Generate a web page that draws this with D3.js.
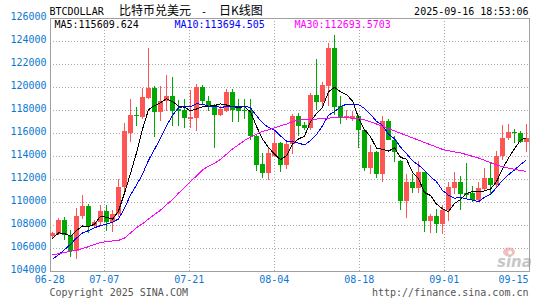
<!DOCTYPE html>
<html>
<head>
<meta charset="utf-8">
<script src="https://cdn.jsdelivr.net/npm/d3@7"></script>
<style>
  body { margin: 0; background: #fff; }
  svg text { font-family: "DejaVu Sans Mono", "Liberation Mono", monospace; font-size: 10px; }
</style>
</head>
<body>
<div id="chart"></div>
<script>
// daily candles, 2025-06-28 .. 2025-09-15
const firstDay = '2025-06-28'
const lastDay = '2025-09-15'

const open = [
  107100, 107250, 108450, 107150, 105800, 108850, 109700, 107950, 108300, 109250,
  108300, 109000, 111300, 116050, 117580, 117400, 119090, 119960, 117800, 118770,
  119260, 118100, 118010, 117250, 117340, 120020, 118830, 118240, 117600, 117950,
  119550, 118270, 118040, 118040, 115770, 113300, 112580, 114030, 115130, 113240,
  115050, 117520, 116730, 116440, 119350, 118680, 120130, 123420, 118390, 117310,
  117230, 117520, 116240, 112950, 114380, 112460, 117020, 115420, 113590, 110100,
  111790, 111270, 112600, 108390, 108830, 108160, 109320, 111270, 111760, 110770,
  110770, 110190, 111150, 112140, 111500, 114030, 115570, 116120, 116040, 115280
]
const high = [
  107450, 108650, 108700, 107600, 109500, 110650, 109900, 108500, 109750, 109800,
  109350, 112030, 116900, 119000, 118280, 119900, 123360, 120100, 120130, 121090,
  120920, 118900, 118940, 119750, 120280, 120220, 119200, 118560, 118400, 119870,
  119870, 118970, 118970, 118970, 115900, 114260, 114790, 116150, 115250, 115300,
  117690, 117750, 117000, 119490, 122400, 120420, 123800, 124560, 119200, 117980,
  117900, 117600, 116300, 115000, 114500, 117520, 117230, 115770, 113700, 112460,
  112460, 113620, 112660, 109030, 109460, 109760, 111790, 112660, 112290, 113390,
  111410, 111790, 112950, 113390, 114490, 116730, 116790, 116360, 116210, 116790
]
const low = [
  106900, 107150, 106750, 105280, 105100, 108550, 107300, 107750, 108050, 107500,
  107450, 108700, 110800, 115270, 116600, 117250, 119000, 115700, 117020, 117950,
  116590, 116600, 116470, 116460, 116180, 118500, 117900, 114700, 117500, 117800,
  116940, 116940, 117230, 115420, 112750, 112080, 111940, 113900, 112660, 112900,
  114200, 115770, 116300, 116300, 118040, 118330, 118400, 117600, 116820, 117170,
  117020, 114700, 112750, 112460, 112080, 111790, 115380, 113530, 109330, 108680,
  110770, 110770, 107430, 107340, 107340, 107230, 108390, 110700, 109320, 110250,
  110020, 110130, 111100, 110720, 111350, 113680, 115420, 115130, 115130, 114410
]
const close = [
  107320, 108500, 107150, 105800, 108850, 109700, 107950, 108300, 109250, 108300,
  109000, 111350, 116150, 117600, 117460, 119170, 119960, 117800, 118770, 119260,
  117950, 117950, 117290, 117400, 120020, 118770, 118270, 117600, 118100, 119550,
  118040, 117950, 117920, 115770, 113240, 112580, 114320, 115130, 113240, 115050,
  117520, 116590, 116440, 119350, 118680, 120220, 123420, 118270, 117310, 117460,
  117520, 116240, 112950, 114400, 112460, 117020, 115420, 114380, 110100, 111790,
  111270, 112600, 108390, 108830, 108160, 109320, 111330, 111760, 110720, 110660,
  110190, 111210, 112140, 111500, 114030, 115570, 116120, 116010, 115280, 115570
]

// moving averages as drawn
const ma5 = [
  106850, 107350, 107300, 107050, 107550, 107950, 107900, 108100, 108800, 108700,
  108550, 109250, 110800, 112500, 114300, 116350, 118050, 118400, 118650, 119000,
  118750, 118350, 118250, 117950, 118100, 118300, 118350, 118400, 118550, 118450,
  118300, 118250, 118300, 117850, 116600, 115500, 114750, 114200, 113700, 114050,
  115050, 115500, 115750, 117000, 117700, 118250, 119600, 120000, 119600, 119350,
  118800, 117350, 116300, 115700, 114700, 114600, 114450, 114750, 113900, 113750,
  112600, 112050, 110850, 110600, 109850, 109450, 109200, 109900, 110250, 110750,
  110950, 110900, 111000, 111150, 111800, 112900, 113850, 114650, 115400, 115610
]
const ma10 = [
  105050, 105450, 105900, 106350, 106900, 107350, 107550, 107800, 107980, 108110,
  108280, 108560, 109470, 110650, 111500, 112450, 113650, 114600, 115550, 116650,
  117550, 118200, 118320, 118300, 118550, 118520, 118350, 118330, 118260, 118290,
  118300, 118300, 118360, 118200, 117520, 116900, 116500, 116260, 115770, 115320,
  115270, 115140, 114990, 115350, 115890, 116650, 117560, 117880, 118290, 118530,
  118530, 118490, 118140, 117650, 117030, 116700, 115900, 115520, 114800, 114230,
  113600, 113240, 112780, 112230, 111800, 111030, 110620, 110360, 110420, 110300,
  110200, 110060, 110430, 110700, 111290, 111910, 112390, 112820, 113270, 113690
]
const ma30 = [
  105450, 105550, 105650, 105750, 105850, 106000, 106150, 106350, 106500, 106600,
  106650, 106700, 106900, 107350, 107800, 108150, 108550, 108950, 109320, 109800,
  110250, 110800, 111270, 111800, 112300, 112800, 113150, 113390, 113740, 114170,
  114640, 114990, 115370, 115660, 115920, 116150, 116300, 116470, 116650, 116790,
  116990, 117140, 117170, 117170, 117230, 117260, 117310, 117370, 117400, 117370,
  117310, 117260, 117170, 117000, 116800, 116600, 116400, 116200, 116000, 115800,
  115600, 115400, 115200, 115000, 114800, 114600, 114480, 114380, 114290, 114150,
  114000, 113850, 113650, 113450, 113250, 113100, 112980, 112870, 112770, 112690
]

const yTicks = [104000, 106000, 108000, 110000, 112000, 114000, 116000, 118000, 120000, 122000, 124000, 126000]
const xTickDates = ['2025-06-28', '2025-07-07', '2025-07-21', '2025-08-04', '2025-08-18', '2025-09-01', '2025-09-15']
const maLabels = ['MA5:115609.624', 'MA10:113694.505', 'MA30:112693.5703']
const maColors = ['#000000', '#0000ff', '#ff00ff']

const width = 545, height = 300
const plot = { left: 50, right: 529, top: 18, bottom: 271 }
const upColor = '#ff5555'
const downColor = '#00a800'
const tickBlue = '#0a78d2'

const parse = d3.timeParse('%Y-%m-%d')
const days = d3.timeDay.range(parse(firstDay), d3.timeDay.offset(parse(lastDay), 1))

const svg = d3
  .select('#chart')
  .append('svg')
  .attr('width', width)
  .attr('height', height)

const y = d3.scaleLinear().domain([104000, 126000]).range([plot.bottom + 0.5, plot.top])
// candles sit on a point scale, the date grid on a time scale
const xc = d3.scalePoint().domain(days.map((d) => +d)).range([52.5, 526.5])
const xt = d3.scaleTime().domain([parse(firstDay), parse(lastDay)]).range([49.7, 529.3])

const snap = (v) => Math.floor(v) + 0.5

// horizontal grid
svg
  .append('g')
  .selectAll('line')
  .data(yTicks.filter((t) => t > 104000 && t < 126000))
  .join('line')
  .attr('x1', plot.left)
  .attr('x2', plot.right)
  .attr('y1', (d) => snap(y(d)))
  .attr('y2', (d) => snap(y(d)))
  .attr('stroke', '#a8a8a8')
  .attr('stroke-dasharray', '1,2')

// vertical grid
svg
  .append('g')
  .selectAll('line')
  .data(xTickDates.slice(1, -1))
  .join('line')
  .attr('x1', (d) => snap(xt(parse(d))))
  .attr('x2', (d) => snap(xt(parse(d))))
  .attr('y1', plot.top)
  .attr('y2', plot.bottom)
  .attr('stroke', '#a8a8a8')
  .attr('stroke-dasharray', '1,2')

// frame
svg
  .append('rect')
  .attr('x', plot.left + 0.5)
  .attr('y', plot.top + 0.5)
  .attr('width', plot.right - plot.left)
  .attr('height', plot.bottom - plot.top)
  .attr('fill', 'none')
  .attr('stroke', '#a0a0a0')

// y labels
svg
  .append('g')
  .selectAll('text')
  .data(yTicks)
  .join('text')
  .attr('x', 46.5)
  .attr('y', (d) => snap(y(d)) + 1.5)
  .attr('text-anchor', 'end')
  .attr('fill', tickBlue)
  .text((d) => d)

// x labels
svg
  .append('g')
  .selectAll('text')
  .data(xTickDates)
  .join('text')
  .attr('x', (d, i) => (i === xTickDates.length - 1 ? 528.5 : xt(parse(d))))
  .attr('y', 282.5)
  .attr('text-anchor', (d, i) => (i === xTickDates.length - 1 ? 'end' : 'middle'))
  .attr('fill', tickBlue)
  .text((d) => d.slice(5))

// candles
const candles = svg
  .append('g')
  .attr('shape-rendering', 'crispEdges')
  .selectAll('g')
  .data(days)
  .join('g')
  .attr('fill', (d, i) => (close[i] >= open[i] ? upColor : downColor))
  .attr('stroke', (d, i) => (close[i] >= open[i] ? upColor : downColor))

candles
  .append('line')
  .attr('x1', (d) => snap(xc(+d)))
  .attr('x2', (d) => snap(xc(+d)))
  .attr('y1', (d, i) => Math.round(y(high[i])))
  .attr('y2', (d, i) => Math.round(y(low[i])))

candles
  .append('rect')
  .attr('stroke', 'none')
  .attr('x', (d) => Math.floor(xc(+d)) - 2)
  .attr('width', 5)
  .attr('y', (d, i) => Math.round(y(Math.max(open[i], close[i]))))
  .attr('height', (d, i) =>
    Math.max(1, Math.round(y(Math.min(open[i], close[i]))) - Math.round(y(Math.max(open[i], close[i]))))
  )

// moving averages
;[ma5, ma10, ma30].forEach((series, k) => {
  svg
    .append('path')
    .datum(series)
    .attr('fill', 'none')
    .attr('stroke', maColors[k])
    .attr('stroke-width', 1)
    .attr('shape-rendering', 'crispEdges')
    .attr('d', d3.line().x((d, i) => xc(+days[i])).y((d) => y(d)))
})

// legend inside the frame
const legendX = [54.5, 174.5, 294.5]
maLabels.forEach((label, k) => {
  svg.append('text').attr('x', legendX[k]).attr('y', 27.5).attr('fill', maColors[k]).text(label)
})

// header
svg.append('text').attr('x', 49.5).attr('y', 14.5).attr('fill', '#000').text('BTCDOLLAR')
svg
  .append('text')
  .attr('x', 119)
  .attr('y', 15)
  .style('font-family', '"Noto Sans CJK SC", sans-serif')
  .style('font-size', '12px')
  .attr('fill', '#000')
  .text('比特币兑美元')
svg.append('text').attr('x', 204).attr('y', 14.5).attr('text-anchor', 'middle').attr('fill', '#000').text('-')
svg
  .append('text')
  .attr('x', 219)
  .attr('y', 15)
  .style('font-family', '"Noto Sans CJK SC", sans-serif')
  .style('font-size', '12px')
  .attr('fill', '#000')
  .text('日K线图')
svg
  .append('text')
  .attr('x', 528.5)
  .attr('y', 14.5)
  .attr('text-anchor', 'end')
  .attr('fill', '#000')
  .text('2025-09-16 18:53:06')

// footer
svg.append('text').attr('x', 49.5).attr('y', 296).attr('fill', '#555').text('Copyright 2025 SINA.COM')
svg
  .append('text')
  .attr('x', 528.5)
  .attr('y', 296)
  .attr('text-anchor', 'end')
  .attr('fill', '#555')
  .text('http://finance.sina.com.cn')

// sina watermark
const mark = svg.append('g').attr('opacity', 0.55)
mark.append('ellipse').attr('cx', 509).attr('cy', 252).attr('rx', 6).attr('ry', 4.5).attr('fill', '#e88a8a')
mark.append('circle').attr('cx', 510).attr('cy', 252.5).attr('r', 2).attr('fill', '#fff')
mark
  .append('text')
  .attr('x', 497)
  .attr('y', 267)
  .style('font-family', '"DejaVu Sans", sans-serif')
  .style('font-size', '15px')
  .style('font-style', 'italic')
  .style('font-weight', 'bold')
  .attr('fill', '#9a9a9a')
  .text('sina')
</script>
</body>
</html>
